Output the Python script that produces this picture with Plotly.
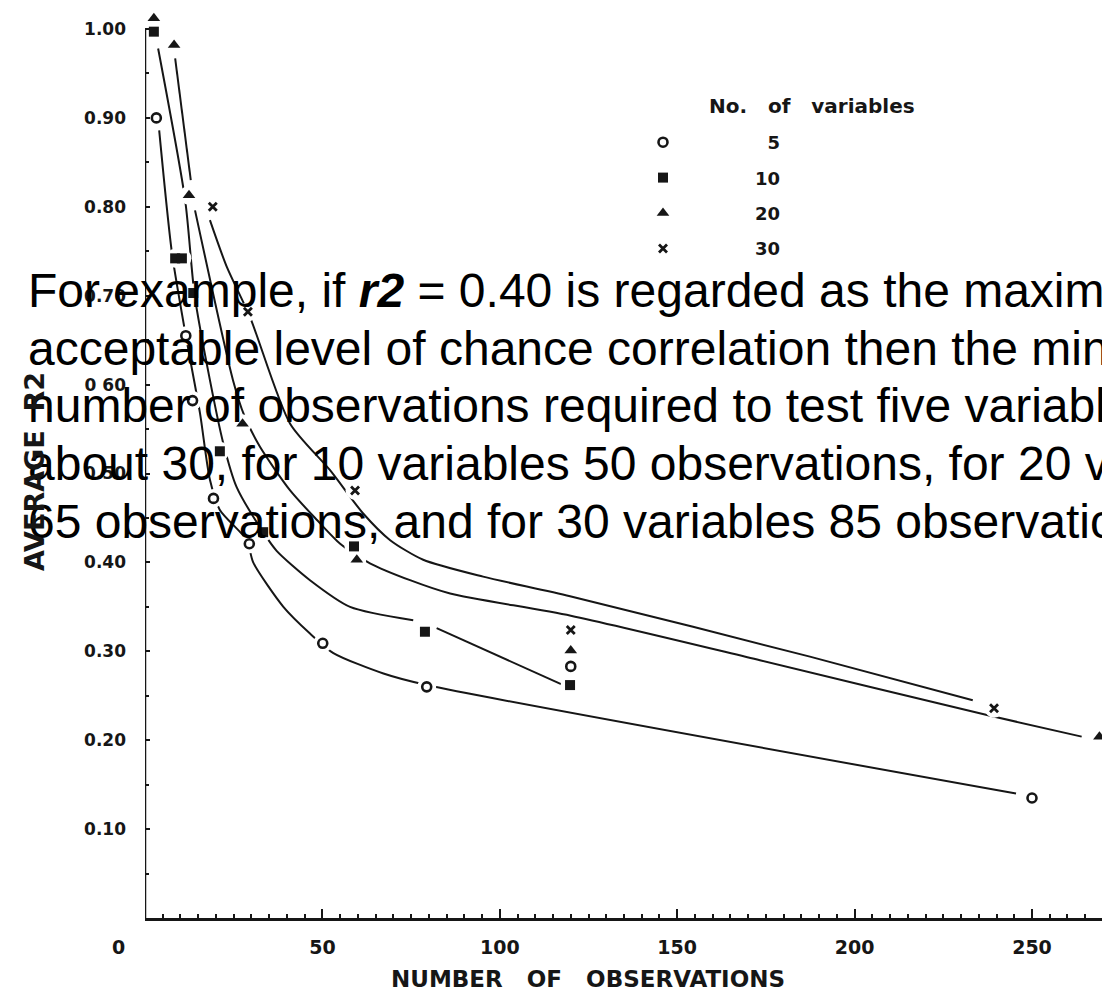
import plotly.graph_objects as go

# ---------------- data ----------------
# marker points: number of observations vs average r2
obs_5 = [3.2, 11.5, 13.4, 19.3, 29.4, 50.1, 79.4, 120, 250]
r2_5 = [0.90, 0.655, 0.582, 0.472, 0.421, 0.309, 0.260, 0.283, 0.135]

obs_10 = [2.5, 8.5, 10.4, 13.6, 21.1, 33.3, 58.9, 78.9, 119.8]
r2_10 = [0.997, 0.742, 0.742, 0.703, 0.525, 0.434, 0.418, 0.322, 0.262]

obs_20 = [2.5, 8.2, 12.4, 27.5, 59.7, 120, 269]
r2_20 = [1.012, 0.982, 0.813, 0.556, 0.403, 0.301, 0.204]

obs_30 = [19.1, 29.0, 59.2, 120, 239.3]
r2_30 = [0.800, 0.682, 0.481, 0.324, 0.236]

# hand-drawn fitted curves
curve_5_x = [4.0, 7.6, 11.5, 15.5, 18.3, 21.1, 28.7, 30.5, 39, 46.5, 53.1, 67.2, 79.4, 245.5]
curve_5_y = [0.886, 0.748, 0.655, 0.568, 0.493, 0.459, 0.425, 0.400, 0.350, 0.320, 0.298, 0.275, 0.262, 0.140]

curve_10_x = [3.7, 11.3, 14.0, 18.3, 22.0, 25.8, 33.3, 37.1, 46.5, 57.8, 75.6, None, 82.2, 117.9]
curve_10_y = [0.978, 0.808, 0.700, 0.605, 0.535, 0.485, 0.434, 0.413, 0.380, 0.350, 0.335, None, 0.326, 0.262]

curve_20_x = [8.5, 12.9, None, 14.1, 24.8, 28.0, 32.4, 40.9, 48.4, 55.0, 63.4, 74.7, 86.0, 120, 173.3, 237.6, 264]
curve_20_y = [0.967, 0.830, None, 0.796, 0.605, 0.565, 0.530, 0.481, 0.448, 0.421, 0.399, 0.380, 0.365, 0.340, 0.290, 0.228, 0.204]

curve_30_x = [18.3, 23.0, 29.6, 40.9, 52.1, 61.5, 69.1, 78.4, 95.3, 119.8, 187.4, 233.3]
curve_30_y = [0.785, 0.733, 0.676, 0.556, 0.504, 0.455, 0.425, 0.403, 0.384, 0.362, 0.294, 0.245]

series_names = ["5", "10", "20", "30"]
x_tick_vals = [0, 50, 100, 150, 200, 250]
x_tick_text = ["0" + "\u00a0" * 8, "50", "100", "150", "200", "250"]
y_tick_vals = [0.1, 0.2, 0.3, 0.4, 0.5, 0.6, 0.7, 0.8, 0.9, 1.0]
y_tick_text = ["0.10", "0.20", "0.30", "0.40", "0.50", "0 60", "0.70", "0.80", "0.90", "1.00"]

overlay_lines = [
    "For example, if <b><i>r2</i></b> = 0.40 is regarded as the maximum",
    "acceptable level of chance correlation then the minimum",
    "number of observations required to test five variables is",
    "about 30, for 10 variables 50 observations, for 20 variables",
    "65 observations, and for 30 variables 85 observations.",
]

# ---------------- layout geometry ----------------
W, H = 1102, 989
ML, MR, MT, MB = 145, 0, 0, 71
PX_PER_X = 3.548
PX_PER_Y = 889.0
XMAX = (W - ML - MR) / PX_PER_X
YMAX = (H - MB - MT) / PX_PER_Y
Y_AXIS_TOP = 1.0
INK = "#161616"
SCAN_FONT = "DejaVu Sans"


def paper(px, py):
    return (px - ML) / (W - ML - MR), (H - MB - py) / (H - MB - MT)


fig = go.Figure()

# curves
for cx, cy in [(curve_5_x, curve_5_y), (curve_10_x, curve_10_y),
               (curve_20_x, curve_20_y), (curve_30_x, curve_30_y)]:
    fig.add_trace(go.Scatter(x=cx, y=cy, mode="lines", connectgaps=False,
                             line=dict(color=INK, width=2, shape="spline", smoothing=0.7),
                             showlegend=False, hoverinfo="skip", cliponaxis=False))

# white halos (gaps of the drawn lines around the symbols)
for ox, oy in [(obs_5, r2_5), (obs_10, r2_10), (obs_20, r2_20), (obs_30, r2_30)]:
    fig.add_trace(go.Scatter(x=ox, y=oy, mode="markers",
                             marker=dict(symbol="circle", size=19, color="white"),
                             showlegend=False, hoverinfo="skip", cliponaxis=False))

styles = [
    dict(symbol="circle-open", size=9, color=INK, line=dict(width=2.6, color=INK)),
    dict(symbol="square", size=10, color=INK, line=dict(width=0)),
    dict(symbol="triangle-up", size=11, color=INK, line=dict(width=0)),
    dict(symbol="x-thin", size=8, color=INK, line=dict(width=2.8, color=INK)),
]
for name, (ox, oy), st in zip(series_names,
                              [(obs_5, r2_5), (obs_10, r2_10), (obs_20, r2_20), (obs_30, r2_30)],
                              styles):
    label = ("\u2007" + name) if len(name) == 1 else name
    fig.add_trace(go.Scatter(x=ox, y=oy, mode="markers", name=label, legendgroup=name,
                             marker=st, cliponaxis=False))

annotations = []
# overlay text block (black, Arial-like)
line_x = [26, 26, 26, 26, 26]
line_base = [306, 364, 422, 479, 537]
for txt, lx, lb in zip(overlay_lines, line_x, line_base):
    ax, ay = paper(lx, lb - 16)
    annotations.append(dict(text=txt, x=ax, y=ay, xref="paper", yref="paper",
                            xanchor="left", yanchor="middle", showarrow=False,
                            font=dict(family="Liberation Sans, Arial", size=48, color="black")))

# axis titles
tx, ty = paper(588, 979)
annotations.append(dict(text="NUMBER\u00a0\u00a0\u00a0OF\u00a0\u00a0\u00a0OBSERVATIONS", x=tx, y=ty,
                        xref="paper", yref="paper", xanchor="center", yanchor="middle",
                        showarrow=False,
                        font=dict(family=SCAN_FONT, size=23, color=INK, weight="bold")))
vx, vy = paper(34, 472)
annotations.append(dict(text="AVERAGE\u00a0\u00a0R2", x=vx, y=vy, textangle=-90,
                        xref="paper", yref="paper", xanchor="center", yanchor="middle",
                        showarrow=False,
                        font=dict(family=SCAN_FONT, size=27, color=INK, weight="bold")))
# legend title
lx, ly = paper(707, 106)
annotations.append(dict(text="No.\u00a0\u00a0\u00a0of\u00a0\u00a0\u00a0variables", x=lx, y=ly,
                        xref="paper", yref="paper", xanchor="left", yanchor="middle",
                        showarrow=False,
                        font=dict(family=SCAN_FONT, size=20, color=INK, weight="bold")))

gx, gy = paper(571, 124)
fig.update_layout(
    width=W, height=H,
    margin=dict(l=ML, r=MR, t=MT, b=MB, pad=0),
    paper_bgcolor="white", plot_bgcolor="white",
    showlegend=True,
    legend=dict(x=gx, y=gy, xanchor="left", yanchor="top", bgcolor="rgba(0,0,0,0)",
                itemwidth=174, tracegroupgap=9, itemclick=False,
                font=dict(family=SCAN_FONT, size=18, color=INK, weight="bold")),
    annotations=annotations,
    shapes=[dict(type="line", xref="x", yref="y", x0=0, x1=0, y0=0, y1=Y_AXIS_TOP,
                 line=dict(color=INK, width=2.5), layer="above")],
    xaxis=dict(range=[0, XMAX], showgrid=False, zeroline=False,
               showline=True, linecolor=INK, linewidth=2.5,
               tickmode="array", tickvals=x_tick_vals, ticktext=x_tick_text,
               ticks="inside", ticklen=9, tickwidth=2, tickcolor=INK,
               ticklabelstandoff=10,
               minor=dict(dtick=5, tick0=0, ticks="inside", ticklen=4, tickwidth=1.5, tickcolor=INK),
               tickfont=dict(family=SCAN_FONT, size=19, color=INK, weight="bold")),
    yaxis=dict(range=[0, YMAX], showgrid=False, zeroline=False,
               showline=False,
               tickmode="array", tickvals=y_tick_vals, ticktext=y_tick_text,
               ticks="inside", ticklen=5, tickwidth=2, tickcolor=INK,
               ticklabelstandoff=18,
               minor=dict(tickvals=[0.05 + 0.1 * k for k in range(10)], ticks="inside",
                          ticklen=4, tickwidth=1.5, tickcolor=INK),
               tickfont=dict(family=SCAN_FONT, size=17, color=INK, weight="bold")),
)

fig.write_html("out.html")
